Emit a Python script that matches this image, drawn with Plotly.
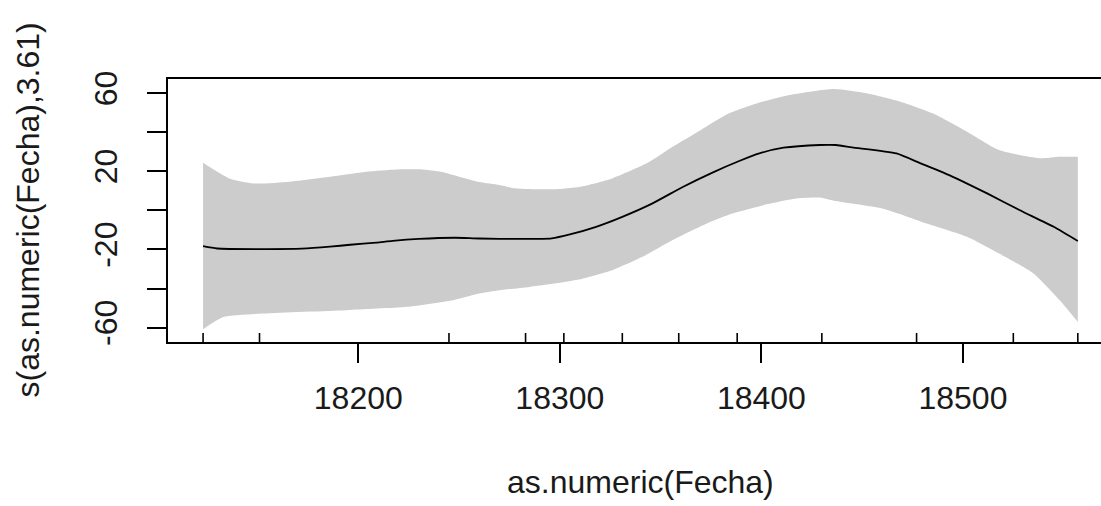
import plotly.graph_objects as go

# ---- data ----
fit_x = [18123, 18130, 18151, 18172, 18186, 18196, 18209, 18217, 18230, 18248, 18260, 18280,
         18296, 18305, 18318, 18331, 18346, 18361, 18376, 18389, 18399, 18411, 18429, 18437,
         18445, 18467, 18479, 18495, 18512, 18528, 18545, 18557]
fit_y = [-18.3, -19.5, -19.8, -19.6, -18.6, -17.6, -16.5, -15.6, -14.6, -14.0, -14.4, -14.6,
         -14.3, -12.3, -8.4, -3.3, 3.6, 12.0, 19.5, 25.3, 29.2, 32.1, 33.5, 33.5,
         32.3, 29.2, 24.1, 17.2, 8.7, 0.2, -8.4, -15.7]

up_x = [18123, 18136, 18148, 18166, 18186, 18204, 18219, 18232, 18241, 18260, 18270, 18277,
        18297, 18310, 18326, 18343, 18356, 18370, 18384, 18398, 18414, 18436, 18452, 18469,
        18485, 18502, 18518, 18538, 18548, 18557]
up_y = [24.4, 16.4, 13.8, 14.7, 17.2, 19.8, 21.0, 21.0, 19.8, 14.5, 13.0, 11.4,
        10.8, 12.1, 16.4, 24.1, 32.6, 41.2, 49.7, 54.9, 59.1, 62.2, 60.0, 55.7,
        49.7, 40.3, 30.9, 26.7, 27.5, 27.5]

lo_x = [18123, 18133, 18153, 18194, 18224, 18247, 18260, 18270, 18285, 18308, 18326, 18341,
        18356, 18373, 18386, 18401, 18418, 18429, 18436, 18460, 18482, 18502, 18518, 18535,
        18548, 18557]
lo_y = [-60.9, -54.6, -52.8, -51.1, -49.4, -46.0, -42.6, -40.9, -39.2, -35.7, -30.6, -23.8,
        -15.2, -6.7, -1.5, 2.7, 6.2, 6.6, 5.0, 1.0, -6.7, -13.5, -22.1, -32.3,
        -46.0, -57.1]

rug_x = [18123, 18151, 18245, 18283, 18302, 18331, 18359, 18388, 18430, 18477, 18525, 18557]

x_ticks = [18200, 18300, 18400, 18500]
y_ticks = [-60, -40, -20, 0, 20, 40, 60]
y_ticktext = ["-60", "", "-20", "", "20", "", "60"]

x_title = "as.numeric(Fecha)"
y_title = "s(as.numeric(Fecha),3.61)"

# ---- ranges / styling ----
X_RANGE = [18105.6, 18568.5]
Y_RANGE = [-67.4, 67.3]
RUG_LEN = 4.6
FONT = "Liberation Sans, Arial, sans-serif"
TXT = "#1a1a1a"
BAND = "#CCCCCC"

fig = go.Figure()

# confidence band: lower edge, then upper edge filled to it
fig.add_trace(go.Scatter(
    x=lo_x, y=lo_y, mode="lines",
    line=dict(width=0, color=BAND, shape="spline", smoothing=0.6),
    hoverinfo="skip", showlegend=False))
fig.add_trace(go.Scatter(
    x=up_x, y=up_y, mode="lines", fill="tonexty", fillcolor=BAND,
    line=dict(width=0, color=BAND, shape="spline", smoothing=0.6),
    hoverinfo="skip", showlegend=False))

# fitted smooth
fig.add_trace(go.Scatter(
    x=fit_x, y=fit_y, mode="lines",
    line=dict(color="black", width=1.8, shape="spline", smoothing=0.6),
    showlegend=False))

# rug
rx, ry = [], []
for v in rug_x:
    rx += [v, v, None]
    ry += [Y_RANGE[0], Y_RANGE[0] + RUG_LEN, None]
fig.add_trace(go.Scatter(x=rx, y=ry, mode="lines",
                         line=dict(color="black", width=1.6),
                         hoverinfo="skip", showlegend=False, cliponaxis=False))

fig.update_layout(
    width=1101, height=506,
    margin=dict(l=168, r=0, t=79, b=164),
    paper_bgcolor="white", plot_bgcolor="white",
    font=dict(family=FONT, size=32, color=TXT),
    xaxis=dict(range=X_RANGE, tickvals=x_ticks, ticktext=[str(v) for v in x_ticks],
               ticks="outside", ticklen=19, tickwidth=2, tickcolor="black",
               showline=True, linewidth=2, linecolor="black", mirror=True,
               showgrid=False, zeroline=False, ticklabelstandoff=8,
               tickfont=dict(size=32, family=FONT, color=TXT)),
    yaxis=dict(range=Y_RANGE, tickvals=y_ticks, ticktext=y_ticktext,
               ticks="outside", ticklen=19, tickwidth=2, tickcolor="black",
               showline=True, linewidth=2, linecolor="black", mirror=False,
               showgrid=False, zeroline=False, tickangle=-90, ticklabelstandoff=17,
               tickfont=dict(size=32, family=FONT, color=TXT)),
    annotations=[
        dict(text=x_title, xref="x", yref="paper", x=18340, y=0,
             xanchor="center", yanchor="middle", yshift=-140, showarrow=False,
             font=dict(size=32, family=FONT, color=TXT)),
        dict(text=y_title, xref="paper", yref="paper", x=0, y=0.5,
             xanchor="center", yanchor="middle", xshift=-141, textangle=-90,
             showarrow=False, font=dict(size=32, family=FONT, color=TXT)),
    ],
)

fig.write_html("out.html", config={"displayModeBar": False},
               post_script="document.body.style.margin='0';")
